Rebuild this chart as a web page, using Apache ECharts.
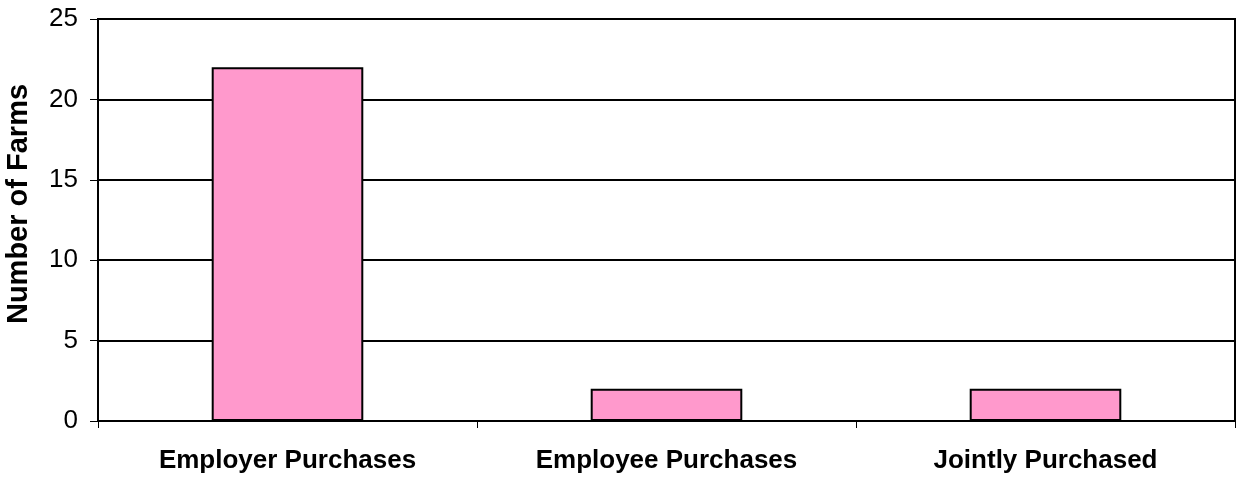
<!DOCTYPE html>
<html>
<head>
<meta charset="utf-8">
<script src="https://cdn.jsdelivr.net/npm/echarts@6/dist/echarts.min.js"></script>
<style>
  html, body { margin: 0; padding: 0; background: #fff; }
  #chart { width: 1241px; height: 481px; }
</style>
</head>
<body>
<div id="chart"></div>
<script>
const categories = ["Employer Purchases", "Employee Purchases", "Jointly Purchased"];
const farms = [22, 2, 2];

const chart = echarts.init(document.getElementById("chart"));
chart.setOption({
  animation: false,
  grid: {
    left: 98,
    right: 6,
    top: 19,
    bottom: 60,
    outerBoundsMode: "none",
    containLabel: false,
    show: true,
    borderColor: "#000",
    borderWidth: 2
  },
  xAxis: {
    type: "category",
    data: categories,
    axisLine: { lineStyle: { color: "#000", width: 2 } },
    axisTick: { show: true, alignWithLabel: false, length: 7, lineStyle: { color: "#000" } },
    axisLabel: {
      color: "#000",
      fontFamily: "Liberation Sans, Arial, sans-serif",
      fontSize: 26,
      fontWeight: "bold",
      margin: 27
    }
  },
  yAxis: {
    type: "value",
    min: 0,
    max: 25,
    interval: 5,
    name: "Number of Farms",
    nameLocation: "middle",
    nameGap: 65,
    nameTextStyle: {
      color: "#000",
      fontFamily: "Liberation Sans, Arial, sans-serif",
      fontSize: 29,
      fontWeight: "bold",
      padding: [0, 0, 0, 32]
    },
    axisLine: { show: true, lineStyle: { color: "#000", width: 2 } },
    axisTick: { show: true, length: 8, lineStyle: { color: "#000" } },
    axisLabel: {
      color: "#000",
      fontFamily: "Liberation Sans, Arial, sans-serif",
      fontSize: 26,
      margin: 20
    },
    splitLine: { lineStyle: { color: "#000", width: 2 } }
  },
  series: [{
    type: "bar",
    data: farms,
    barWidth: "40%",
    itemStyle: { color: "#FF99CC", borderColor: "#000", borderWidth: 2 }
  }]
});
</script>
</body>
</html>
